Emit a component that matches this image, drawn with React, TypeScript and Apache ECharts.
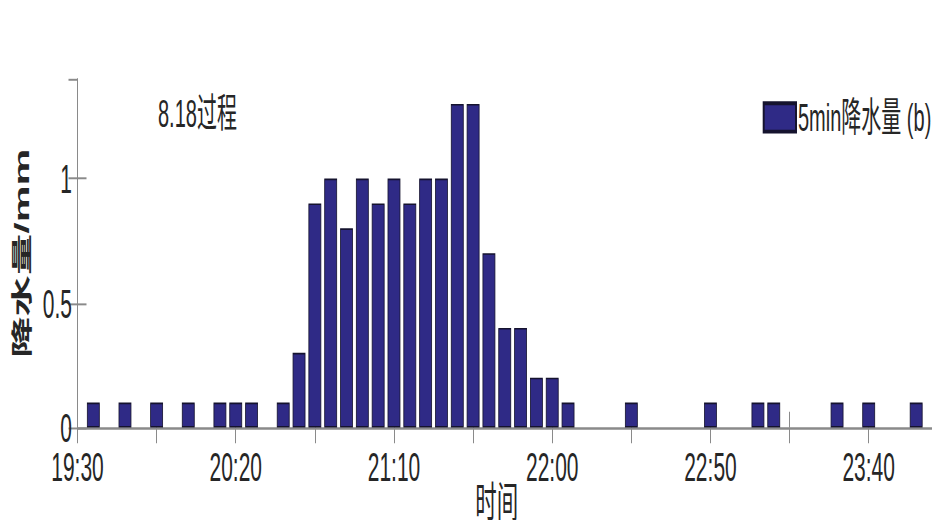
import React, { useEffect, useRef } from "react";
import * as echarts from "echarts";

// 5-minute slots counted from 19:30 (slot k ends at 19:30 + 5k min)
const slotIndex = [
  1, 2, 3, 4, 5, 6, 7, 8, 9, 10, 11, 12, 13, 14, 15, 16, 17, 18, 19, 20, 21, 22, 23, 24, 25, 26, 27,
  28, 29, 30, 31, 32, 33, 34, 35, 36, 37, 38, 39, 40, 41, 42, 43, 44, 45, 46, 47, 48, 49, 50, 51, 52, 53,
];
const rain5min = [
  0.1, 0, 0.1, 0, 0.1, 0, 0.1, 0, 0.1, 0.1,
  0.1, 0, 0.1, 0.3, 0.9, 1.0, 0.8, 1.0, 0.9, 1.0,
  0.9, 1.0, 1.0, 1.3, 1.3, 0.7, 0.4, 0.4, 0.2, 0.2,
  0.1, 0, 0, 0, 0.1, 0, 0, 0, 0, 0.1,
  0, 0, 0.1, 0.1, 0, 0, 0, 0.1, 0, 0.1,
  0, 0, 0.1,
];
const xTickLabels = ["19:30", "20:20", "21:10", "22:00", "22:50", "23:40"];
const yTickLabels = ["0", "0.5", "1"];
const seriesName = "5min降水量 (b)";
const xTitle = "时间";
const yTitle = "降水量/mm";
const annotation = "8.18过程";

const W = 932;
const S = 1.97; // vertical stretch of the original figure
const H = 521 / S;

const FONT = "'Liberation Sans', Arial, 'Noto Sans CJK SC', sans-serif";
const TXT = "#262626";
const AX = "#8a8a8a";

export default function App() {
  const ref = useRef<HTMLDivElement>(null);
  useEffect(() => {
    if (!ref.current) return;
    const chart = echarts.init(ref.current, undefined, { renderer: "svg" });
    const data = slotIndex
      .map((k, i) => [k, rain5min[i]])
      .filter((d) => d[1] > 0);
    const gridTop = 79 / S;
    const gridH = (427.5 - 79) / S;
    chart.setOption({
      animation: false,
      textStyle: { fontFamily: FONT, color: TXT },
      grid: {
        left: 77.5,
        right: 0,
        top: gridTop,
        height: gridH,
        containLabel: false,
        outerBoundsMode: "none",
      },
      legend: {
        show: true,
        left: 762.7,
        top: 49.6,
        padding: 0,
        itemWidth: 32.3,
        itemHeight: 14.4,
        icon: "rect",
        textStyle: { fontFamily: FONT, fontSize: 20, color: TXT, padding: [0, 0, 0, -3] },
        data: [seriesName],
      },
      xAxis: [
        {
          type: "value",
          position: "bottom",
          min: 0,
          max: 54,
          interval: 5,
          name: xTitle,
          nameLocation: "middle",
          nameGap: 28,
          nameMoveOverlap: false,
          nameTextStyle: {
            fontFamily: FONT,
            fontSize: 21.5,
            lineHeight: 20,
            color: TXT,
            padding: [0, 16, 0, 0],
          },
          axisLine: { show: true, lineStyle: { color: AX, width: 1 } },
          axisTick: { show: true, inside: true, length: 8, lineStyle: { color: AX } },
          axisLabel: {
            fontFamily: FONT,
            fontSize: 21,
            lineHeight: 15,
            color: TXT,
            margin: 12.5,
            showMaxLabel: false,
            formatter: (v: number) => (v % 10 === 0 && v / 10 < xTickLabels.length ? xTickLabels[v / 10] : ""),
          },
          splitLine: { show: false },
        },
        {
          type: "value",
          position: "top",
          min: 0,
          max: 54,
          interval: 5,
          axisLine: { show: true, lineStyle: { color: AX, width: 1 } },
          axisTick: { show: true, inside: true, length: 8, lineStyle: { color: AX } },
          axisLabel: { show: false },
          splitLine: { show: false },
        },
      ],
      yAxis: [
        {
          type: "value",
          position: "left",
          min: 0,
          max: 1.4,
          interval: 0.5,
          name: yTitle,
          nameLocation: "middle",
          nameGap: 41,
          nameTextStyle: { fontFamily: FONT, fontSize: 21, fontWeight: "bold", color: TXT },
          axisLine: { show: true, lineStyle: { color: AX, width: 1 } },
          axisTick: { show: true, inside: true, length: 9, lineStyle: { color: AX } },
          axisLabel: {
            fontFamily: FONT,
            fontSize: 21,
            lineHeight: 15,
            color: TXT,
            margin: 5.5,
            showMaxLabel: false,
            formatter: (v: number) => {
              const idx = Math.round(v / 0.5);
              return Math.abs(v - idx * 0.5) < 1e-9 && idx < yTickLabels.length ? yTickLabels[idx] : "";
            },
          },
          splitLine: { show: false },
        },
        {
          type: "value",
          position: "right",
          min: 0,
          max: 1.4,
          interval: 0.5,
          axisLine: { show: false },
          axisTick: { show: true, inside: true, length: 9, lineStyle: { color: AX } },
          axisLabel: { show: false },
          splitLine: { show: false },
        },
      ],
      graphic: [
        {
          type: "text",
          left: 158,
          top: 57.9 - 10,
          style: { text: annotation, font: `20px ${FONT}`, fill: TXT },
        },
      ],
      series: [
        {
          name: seriesName,
          type: "bar",
          xAxisIndex: 0,
          yAxisIndex: 0,
          barWidth: 12.8,
          data,
          itemStyle: { color: "#2f2a86", borderColor: "#15132e", borderWidth: 0.8 },
        },
      ],
    });
    return () => chart.dispose();
  }, []);
  return (
    <div
      ref={ref}
      style={{
        position: "absolute",
        left: 0,
        top: 0,
        width: W,
        height: H,
        transform: `scaleY(${S})`,
        transformOrigin: "0 0",
        background: "#fff",
      }}
    />
  );
}
